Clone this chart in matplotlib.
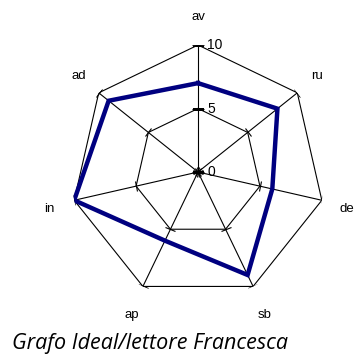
import numpy as np
import matplotlib
matplotlib.use("Agg")
import matplotlib.pyplot as plt
from matplotlib.markers import MarkerStyle
from matplotlib.transforms import Affine2D

categories = ["av", "ru", "de", "sb", "ap", "in", "ad"]
values = [7, 8, 6, 9, 6, 10, 9]
tick_values = [0, 5, 10]
tick_labels = ["0", "5", "10"]
title = "Grafo Ideal/lettore Francesca"

n = len(categories)
angles = np.arange(n) * 2 * np.pi / n

fig = plt.figure(figsize=(3.54, 3.55), dpi=100)
ax = fig.add_axes([0.2006, 0.1577, 0.7175, 0.7155], projection="polar")
ax.set_theta_zero_location("N")
ax.set_theta_direction(-1)
ax.set_ylim(0, 10)
ax.grid(False)
ax.spines["polar"].set_visible(False)
ax.set_xticks([])
ax.set_yticks([])
ax.patch.set_alpha(0)

closed = np.append(angles, angles[0])
# heptagon grid
for r in tick_values[1:]:
    ax.plot(closed, [r] * (n + 1), color="black", lw=0.8, zorder=1)
# axis lines and tick marks
for a in angles:
    ax.plot([a, a], [0, 10], color="black", lw=0.8, zorder=1)
    m = MarkerStyle("_", transform=Affine2D().rotate_deg(-np.degrees(a)))
    ax.plot([a] * len(tick_values), tick_values, linestyle="none", marker=m,
            markersize=8, markeredgewidth=0.8, color="black", zorder=2)

# data
ax.plot(closed, np.append(values, values[0]), color="#000080", lw=3.2, zorder=3,
        solid_joinstyle="miter")

# tick labels on first axis
for v, lab in zip(tick_values, tick_labels):
    ax.annotate(lab, xy=(0, v), xytext=(6.5, 0), textcoords="offset points",
                ha="left", va="center", fontsize=10, family="Liberation Sans")

# category labels, offset outward from each axis tip
for a, c in zip(angles, categories):
    dx, dy = 18.5 * np.sin(a), 21.5 * np.cos(a) - 1.5
    ax.annotate(c, xy=(a, 10), xytext=(dx, dy), textcoords="offset points",
                ha="center", va="center", fontsize=9.5, family="Liberation Sans")

fig.text(0.033, 0.016, title, fontsize=15.5, style="italic", family="Open Sans",
         ha="left", va="baseline")

fig.savefig("out.png", dpi=100)
